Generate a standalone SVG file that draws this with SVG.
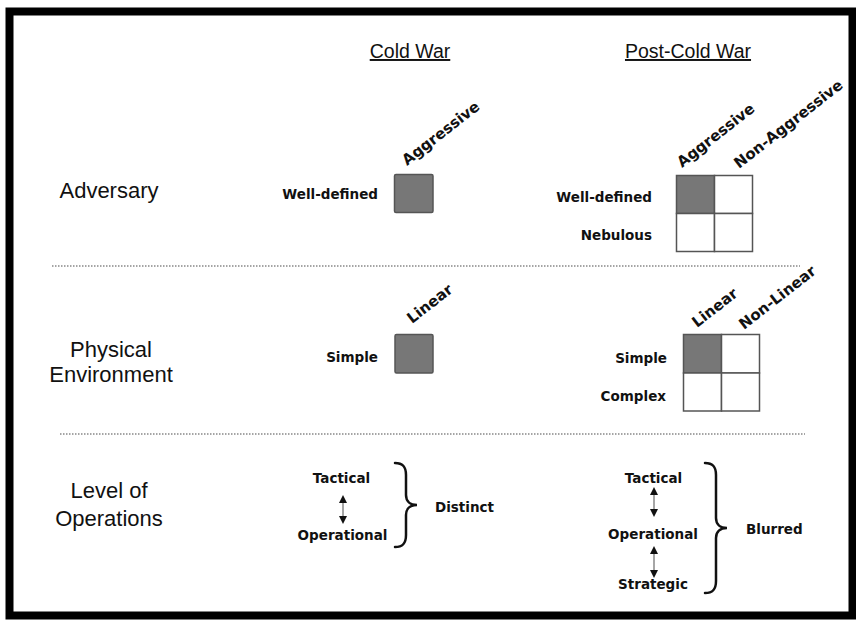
<svg xmlns="http://www.w3.org/2000/svg" width="856" height="620" viewBox="0 0 856 620">
<style>
.frame{fill:none;stroke:#000;stroke-width:8}
.hdr{font-family:"Liberation Sans",Arial,sans-serif;font-size:19.5px;fill:#111;text-anchor:middle;text-decoration:underline}
.row{font-family:"Liberation Sans",Arial,sans-serif;font-size:22px;fill:#111;text-anchor:middle}
.lbl{font-family:"DejaVu Sans",Verdana,sans-serif;font-weight:bold;font-size:13.5px;fill:#111}
.rl{text-anchor:end}
.rot{font-family:"DejaVu Sans",Verdana,sans-serif;font-weight:bold;font-size:15px;fill:#111}
.dot{stroke:#888;stroke-width:1.3;stroke-dasharray:1.5 1.5;fill:none}
.on{fill:#777;stroke:#555;stroke-width:1.5}
.off{fill:#fff;stroke:#555;stroke-width:1.5}
.brace{fill:none;stroke:#111;stroke-width:2.5;stroke-linecap:round}
.dbl{stroke:#888;stroke-width:1.5;fill:none}
.head{fill:#111}
</style>
<rect x="0" y="0" width="856" height="620" fill="#fff"/>
<rect class="frame" x="9.5" y="11.5" width="843" height="604"/>

<g id="headers">
<text class="hdr" x="410" y="58">Cold War</text>
<text class="hdr" x="688" y="58">Post-Cold War</text>
</g>

<g id="row-labels">
<text class="row" x="109" y="198">Adversary</text>
<text class="row" x="111" y="357">Physical</text>
<text class="row" x="111" y="382">Environment</text>
<text class="row" x="109" y="498">Level of</text>
<text class="row" x="109" y="526">Operations</text>
</g>

<g id="separators">
<line class="dot" x1="52" y1="266" x2="800" y2="266"/>
<line class="dot" x1="60" y1="434" x2="805" y2="434"/>
</g>

<g id="cold-adversary">
<text class="lbl rl" x="378" y="199">Well-defined</text>
<text class="rot" x="407" y="166" transform="rotate(-38 407 166)">Aggressive</text>
<rect class="on" x="394.5" y="174.5" width="38.5" height="38" rx="1.5"/>
</g>

<g id="post-adversary">
<text class="lbl rl" x="652" y="202">Well-defined</text>
<text class="lbl rl" x="652" y="240">Nebulous</text>
<text class="rot" x="682" y="168" transform="rotate(-38 682 168)">Aggressive</text>
<text class="rot" x="739" y="169" transform="rotate(-38 739 169)">Non-Aggressive</text>
<rect class="on" x="676.5" y="175.5" width="38" height="38"/>
<rect class="off" x="714.5" y="175.5" width="38" height="38"/>
<rect class="off" x="676.5" y="213.5" width="38" height="38"/>
<rect class="off" x="714.5" y="213.5" width="38" height="38"/>
</g>

<g id="cold-physical">
<text class="lbl rl" x="378" y="362">Simple</text>
<text class="rot" x="412" y="324" transform="rotate(-38 412 324)">Linear</text>
<rect class="on" x="395" y="334.5" width="38" height="38.5" rx="1.5"/>
</g>

<g id="post-physical">
<text class="lbl rl" x="667" y="363">Simple</text>
<text class="lbl rl" x="666" y="401">Complex</text>
<text class="rot" x="697" y="328" transform="rotate(-38 697 328)">Linear</text>
<text class="rot" x="744" y="330" transform="rotate(-38 744 330)">Non-Linear</text>
<rect class="on" x="683.5" y="334.5" width="38" height="38.5"/>
<rect class="off" x="721.5" y="334.5" width="38" height="38.5"/>
<rect class="off" x="683.5" y="373" width="38" height="38"/>
<rect class="off" x="721.5" y="373" width="38" height="38"/>
</g>

<g id="cold-levels">
<text class="lbl" x="341.5" y="483" text-anchor="middle">Tactical</text>
<text class="lbl" x="342.5" y="540" text-anchor="middle">Operational</text>
<text class="lbl" x="435" y="512">Distinct</text>
<path class="brace" d="M395,463 C403,463 406,467 406,475 L406,495 C406,501 410,505 417,505 C410,505 406,509 406,515 L406,535 C406,543 403,547 395,547"/>
</g>

<g id="post-levels">
<text class="lbl" x="653.5" y="483" text-anchor="middle">Tactical</text>
<text class="lbl" x="653" y="539" text-anchor="middle">Operational</text>
<text class="lbl" x="653" y="589" text-anchor="middle">Strategic</text>
<text class="lbl" x="746" y="534">Blurred</text>
<path class="brace" d="M705,463 C713,463 716,467 716,475 L716,518 C716,524 720,528 727,528 C720,528 716,532 716,538 L716,581 C716,589 713,593 705,593"/>
</g>

<g id="connectors">
<line class="dbl" x1="343" y1="500" x2="343" y2="519"/>
<path class="head" d="M343,495 L339,503 L347,503 Z"/>
<path class="head" d="M343,524 L339,516 L347,516 Z"/>
<line class="dbl" x1="654" y1="492" x2="654" y2="512"/>
<path class="head" d="M654,487 L650,495 L658,495 Z"/>
<path class="head" d="M654,517 L650,509 L658,509 Z"/>
<line class="dbl" x1="654" y1="551" x2="654" y2="573"/>
<path class="head" d="M654,546 L650,554 L658,554 Z"/>
<path class="head" d="M654,578 L650,570 L658,570 Z"/>
</g>
</svg>
